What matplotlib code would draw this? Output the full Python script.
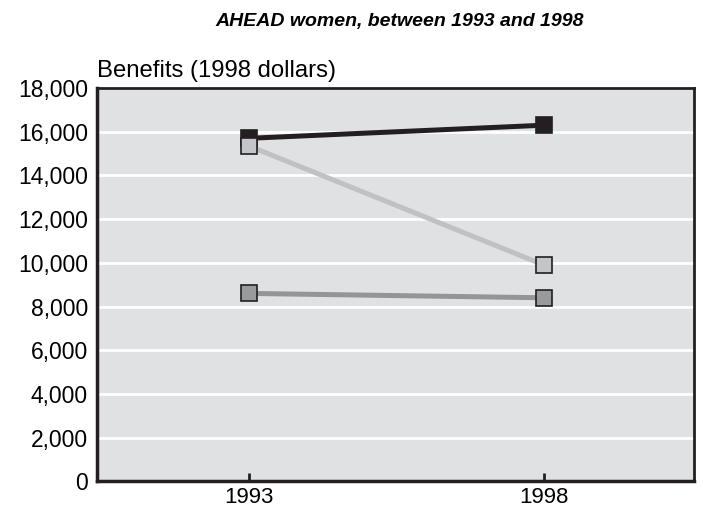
import matplotlib.pyplot as plt

plt.rcParams['font.family'] = ['Liberation Sans', 'DejaVu Sans']

# data
years = ['1993', '1998']
series_dark = [15700, 16300]
series_light = [15350, 9900]
series_mid = [8600, 8400]
y_ticks = list(range(0, 18001, 2000))

fig = plt.figure(figsize=(7.03, 5.12), dpi=100)
ax = fig.add_axes([0.138, 0.06, 0.849, 0.768])
ax.set_facecolor('#e0e1e3')

x = range(len(years))
ax.plot(x, series_dark, color='#231f20', lw=3.6, marker='s', ms=11.5,
        mfc='#231f20', mec='#231f20', mew=1.2, zorder=3)
ax.plot(x, series_light, color='#c0c1c3', lw=3.6, marker='s', ms=11.5,
        mfc='#c4c5c8', mec='#231f20', mew=1.2, zorder=4)
ax.plot(x, series_mid, color='#959595', lw=3.6, marker='s', ms=11.5,
        mfc='#999a9c', mec='#231f20', mew=1.2, zorder=3)

ax.set_xlim(-0.515, 1.508)
ax.set_ylim(0, 18000)
ax.set_xticks(list(x))
ax.set_xticklabels(years, fontsize=16)
ax.set_yticks(y_ticks)
ax.set_yticklabels([f'{v:,}' for v in y_ticks], fontsize=16.5)
ax.tick_params(axis='x', direction='in', length=6, width=2, color='#231f20', pad=4)
ax.tick_params(axis='y', length=0, pad=6.5)

ax.yaxis.grid(True, color='white', lw=2)
ax.set_axisbelow(True)

for side in ['left', 'bottom']:
    ax.spines[side].set_linewidth(2.5)
    ax.spines[side].set_color('#231f20')
for side in ['top', 'right']:
    ax.spines[side].set_linewidth(2)
    ax.spines[side].set_color('#231f20')

ax.text(0, 1.028, 'Benefits (1998 dollars)', transform=ax.transAxes,
        fontsize=17.2, ha='left', va='baseline')
fig.text(0.568, 0.958, 'AHEAD women, between 1993 and 1998', fontsize=14,
         fontweight='bold', fontstyle='italic', ha='center', va='center')

plt.savefig('out.png', dpi=100)
